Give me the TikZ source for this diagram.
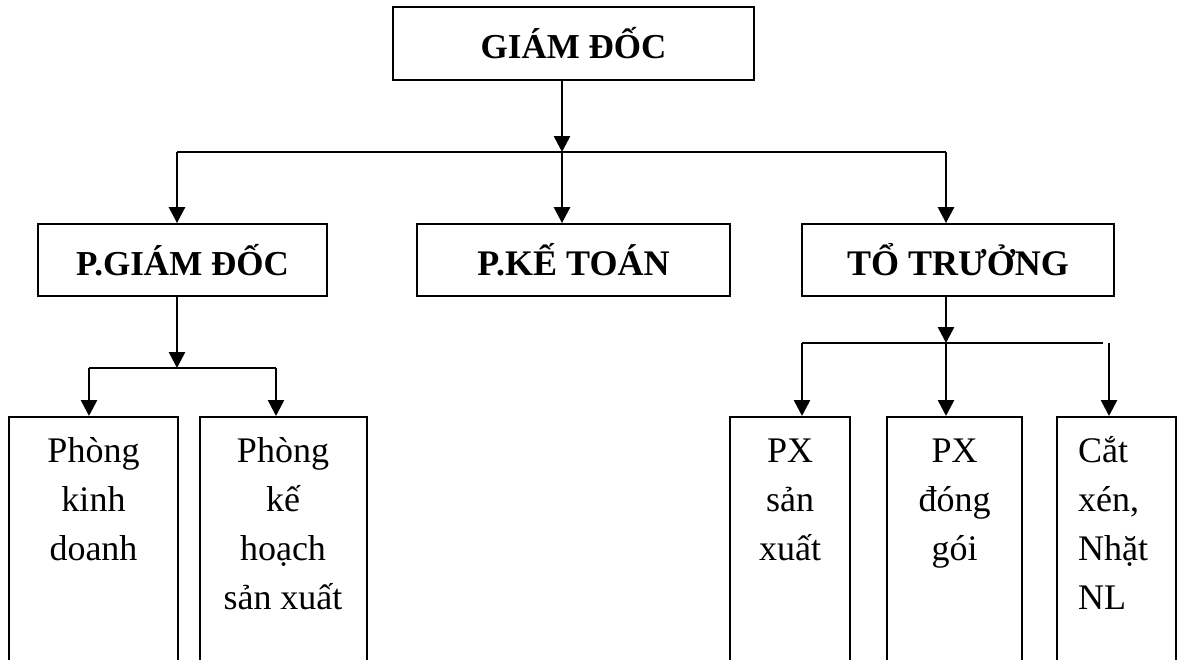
\documentclass[tikz,border=0pt]{standalone}
\usepackage{fontspec}
\setmainfont{Liberation Serif}
\usetikzlibrary{arrows.meta}
\tikzset{
  box/.style={draw, line width=1.8pt, inner sep=0pt, anchor=center},
  lowbox/.style={draw, line width=1.8pt, inner sep=0pt, anchor=north, minimum height=320},
  headtxt/.style={font=\bfseries\fontsize{36}{40}\selectfont},
  bodytxt/.style={font=\fontsize{36}{49.3}\selectfont, inner sep=0pt, align=center, anchor=base},
  arr/.style={line width=2.6pt, -{Triangle[length=16pt,width=16pt]}},
  bus/.style={line width=1.6pt}
}
\begin{document}
\begin{tikzpicture}[x=1pt,y=-1pt]
\useasboundingbox (0,0) rectangle (1177,659);
\clip (0,0) rectangle (1177,659);
% top
\node[box, minimum width=361, minimum height=73, headtxt, font=\bfseries\fontsize{35}{40}\selectfont] (gd) at (573.5,43.5) {GIÁM ĐỐC};
% middle row
\node[box, minimum width=289, minimum height=72, headtxt, font=\bfseries\fontsize{35}{40}\selectfont] (pgd) at (182.5,260) {P.GIÁM ĐỐC};
\node[box, minimum width=313, minimum height=72, headtxt] (pkt) at (573.5,260) {P.KẾ TOÁN};
\node[box, minimum width=312, minimum height=72, headtxt] (tt) at (958,260) {TỔ TRƯỞNG};
% bottom row boxes
\node[lowbox, minimum width=169] (b1) at (93.5,416) {};
\node[lowbox, minimum width=167] (b2) at (283.5,416) {};
\node[lowbox, minimum width=120] (b3) at (790,416) {};
\node[lowbox, minimum width=135] (b4) at (954.5,416) {};
\node[lowbox, minimum width=119] (b5) at (1116.5,416) {};
% bottom texts (base anchor = last line baseline)
\node[bodytxt] (t1) at (93.5,560.6) {Phòng\\kinh\\doanh};
\node[bodytxt] (t2) at (283,609.9) {Phòng\\kế\\hoạch\\sản xuất};
\node[bodytxt] (t3) at (790,560.6) {PX\\sản\\xuất};
\node[bodytxt] (t4) at (954.5,560.6) {PX\\đóng\\gói};
\node[bodytxt, align=left, anchor=base west] (t5) at (1078,609.9) {Cắt\\xén,\\Nhặt\\NL};
% junction coordinates
\coordinate (j1) at (562,152);
\coordinate (bl) at (177,152);
\coordinate (br) at (946,152);
\coordinate (lj) at (177,368);
\coordinate (l1) at (89,368);
\coordinate (l2) at (276,368);
\coordinate (rj) at (946,343);
\coordinate (r1) at (802,343);
\coordinate (r2) at (1103,343);
\coordinate (r3) at (1109,343);
% connectors top
\draw[arr] (gd.south -| j1) -- (j1);
\draw[bus] (bl) -- (br);
\draw[arr] (bl) -- (bl |- pgd.north);
\draw[arr] (j1) -- (j1 |- pkt.north);
\draw[arr] (br) -- (br |- tt.north);
% connectors left
\draw[arr] (pgd.south -| lj) -- (lj);
\draw[bus] (l1) -- (l2);
\draw[arr] (l1) -- (l1 |- b1.north);
\draw[arr] (l2) -- (l2 |- b2.north);
% connectors right
\draw[arr] (tt.south -| rj) -- (rj);
\draw[bus] (r1) -- (r2);
\draw[arr] (r1) -- (r1 |- b3.north);
\draw[arr] (rj) -- (rj |- b4.north);
\draw[arr] (r3) -- (r3 |- b5.north);
\end{tikzpicture}
\end{document}
